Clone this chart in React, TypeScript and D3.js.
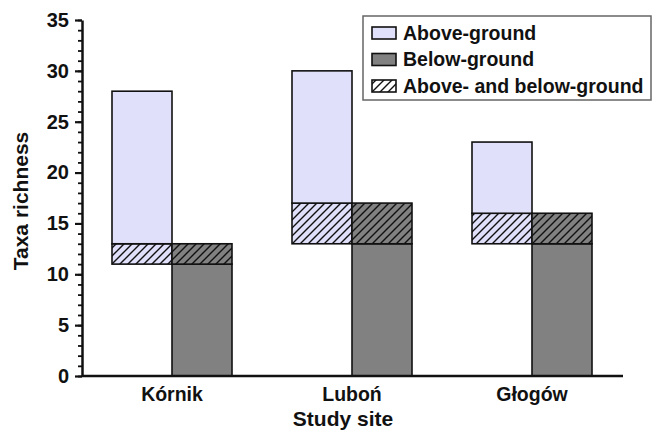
import React, { useEffect, useRef } from 'react';
import * as d3 from 'd3';

// taxa counts per site
const sites = ['Kórnik', 'Luboń', 'Głogów'];
const aboveOnly = [15, 13, 7];
const belowOnly = [11, 13, 13];
const shared = [2, 4, 3];

const yTicks = [0, 5, 10, 15, 20, 25, 30, 35];
const legendLabels = ['Above-ground', 'Below-ground', 'Above- and below-ground'];

const LAVENDER = '#e0e0fa';
const GREY = '#818181';
const FONT = '"Liberation Sans", Arial, sans-serif';

function App() {
  const svgRef = useRef<SVGSVGElement>(null);

  useEffect(() => {
    const width = 652;
    const height = 431;
    const svg = d3.select(svgRef.current);
    svg.selectAll('*').remove();
    svg.attr('width', width).attr('height', height);

    const x = d3.scaleBand<string>().domain(sites).range([82, 622]).padding(0);
    const y = d3.scaleLinear().domain([0, 35]).range([376, 20]);
    const barW = 60;

    // hatch patterns
    const defs = svg.append('defs');
    const makeHatch = (id: string, bg: string) => {
      const p = defs.append('pattern')
        .attr('id', id)
        .attr('patternUnits', 'userSpaceOnUse')
        .attr('width', 8)
        .attr('height', 8);
      p.append('rect').attr('width', 8).attr('height', 8).attr('fill', bg);
      p.append('path')
        .attr('d', 'M-2,2 l4,-4 M0,8 l8,-8 M6,10 l4,-4')
        .attr('stroke', '#111')
        .attr('stroke-width', 1.4);
    };
    makeHatch('hatchLav', LAVENDER);
    makeHatch('hatchGrey', GREY);
    makeHatch('hatchWhite', '#fff');

    const data = sites.map((s, i) => ({
      site: s,
      above: aboveOnly[i],
      below: belowOnly[i],
      shared: shared[i],
    }));

    const g = svg.append('g');
    data.forEach(d => {
      const c = x(d.site)! + x.bandwidth() / 2;
      const rects = [
        // above-ground bar: shared part then above-only part
        { x0: c - barW, v0: d.below, v1: d.below + d.shared, fill: 'url(#hatchLav)' },
        { x0: c - barW, v0: d.below + d.shared, v1: d.below + d.shared + d.above, fill: LAVENDER },
        // below-ground bar
        { x0: c, v0: 0, v1: d.below, fill: GREY },
        { x0: c, v0: d.below, v1: d.below + d.shared, fill: 'url(#hatchGrey)' },
      ];
      g.selectAll(null)
        .data(rects)
        .join('rect')
        .attr('x', r => r.x0)
        .attr('y', r => y(r.v1))
        .attr('width', barW)
        .attr('height', r => y(r.v0) - y(r.v1))
        .attr('fill', r => r.fill)
        .attr('stroke', '#111')
        .attr('stroke-width', 1.6);
    });

    // y axis, minor ticks first
    const minor = svg.append('g').attr('transform', 'translate(82,0)')
      .call(d3.axisLeft(y).ticks(35).tickSize(4).tickFormat(() => ''));
    minor.select('.domain').remove();
    minor.selectAll('line').attr('stroke', '#111').attr('stroke-width', 1.8);

    const yAxis = svg.append('g').attr('transform', 'translate(82,0)')
      .call(d3.axisLeft(y).tickValues(yTicks).tickSize(7).tickSizeOuter(0).tickPadding(6));
    yAxis.select('.domain').attr('stroke', '#111').attr('stroke-width', 2.5);
    yAxis.selectAll('line').attr('stroke', '#111').attr('stroke-width', 2.2);
    yAxis.selectAll('text')
      .attr('fill', '#111')
      .style('font-family', FONT)
      .style('font-weight', 'bold')
      .style('font-size', '20px');

    // x axis
    const xAxis = svg.append('g').attr('transform', 'translate(0,376)')
      .call(d3.axisBottom(x).tickSize(0).tickPadding(11));
    xAxis.select('.domain').attr('stroke', '#111').attr('stroke-width', 2.5).attr('d', 'M82,0H623');
    xAxis.selectAll('text')
      .attr('fill', '#111')
      .style('font-family', FONT)
      .style('font-weight', 'bold')
      .style('font-size', '19.5px');

    // axis titles
    svg.append('text')
      .attr('x', 343)
      .attr('y', 426)
      .attr('text-anchor', 'middle')
      .style('font-family', FONT)
      .style('font-weight', 'bold')
      .style('font-size', '21px')
      .attr('fill', '#111')
      .text('Study site');

    svg.append('text')
      .attr('transform', 'translate(28,201) rotate(-90)')
      .attr('text-anchor', 'middle')
      .style('font-family', FONT)
      .style('font-weight', 'bold')
      .style('font-size', '21px')
      .attr('fill', '#111')
      .text('Taxa richness');

    // legend
    const legend = svg.append('g');
    legend.append('rect')
      .attr('x', 363).attr('y', 16).attr('width', 288).attr('height', 84)
      .attr('fill', '#fff').attr('stroke', '#666').attr('stroke-width', 1.5);
    const fills = [LAVENDER, GREY, 'url(#hatchWhite)'];
    legendLabels.forEach((lab, i) => {
      const cy = 33 + i * 26.5;
      legend.append('rect')
        .attr('x', 372).attr('y', cy - 6).attr('width', 24).attr('height', 12)
        .attr('fill', fills[i]).attr('stroke', '#111').attr('stroke-width', 1.6);
      legend.append('text')
        .attr('x', 403).attr('y', cy)
        .attr('dy', '0.35em')
        .style('font-family', FONT)
        .style('font-weight', 'bold')
        .style('font-size', '19.5px')
        .attr('fill', '#111')
        .text(lab);
    });
  }, []);

  return (
    <svg ref={svgRef} style={{ position: 'absolute', left: 0, top: 0, background: '#fff' }}></svg>
  );
}

export default App;
